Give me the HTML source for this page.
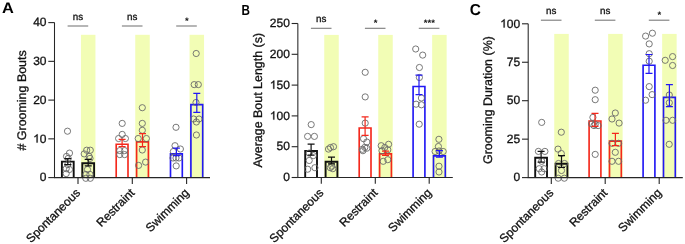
<!DOCTYPE html><html><head><meta charset="utf-8"><style>
html,body{margin:0;padding:0;background:#fff;width:685px;height:244px;overflow:hidden}
svg{display:block;will-change:transform}
text{font-family:"Liberation Sans",sans-serif;text-rendering:geometricPrecision}
.t{stroke:#111;stroke-width:0.3}
</style></head><body>
<svg width="685" height="244" viewBox="0 0 685 244">

<rect x="80.95" y="34.8" width="14.5" height="142.80" fill="#f2fdb5"/>
<rect x="135.25" y="34.8" width="14.5" height="142.80" fill="#f2fdb5"/>
<rect x="189.55" y="34.8" width="14.5" height="142.80" fill="#f2fdb5"/>
<path d="M61.90,177.6V161.60H73.70V177.6" fill="none" stroke="#111111" stroke-width="1.9" stroke-linejoin="miter"/>
<path d="M82.30,177.6V163.30H94.10V177.6" fill="none" stroke="#111111" stroke-width="1.9" stroke-linejoin="miter"/>
<path d="M116.20,177.6V144.20H128.00V177.6" fill="none" stroke="#f4281c" stroke-width="1.65" stroke-linejoin="miter"/>
<path d="M136.60,177.6V141.80H148.40V177.6" fill="none" stroke="#f4281c" stroke-width="1.65" stroke-linejoin="miter"/>
<path d="M170.50,177.6V153.90H182.30V177.6" fill="none" stroke="#2218f4" stroke-width="1.65" stroke-linejoin="miter"/>
<path d="M190.90,177.6V104.60H202.70V177.6" fill="none" stroke="#2218f4" stroke-width="1.65" stroke-linejoin="miter"/>
<g fill="none" stroke="#6a6a6a" stroke-width="0.9"><circle cx="67.5" cy="131.2" r="3.1"/><circle cx="69.5" cy="153.1" r="3.1"/><circle cx="66.5" cy="156.4" r="3.1"/><circle cx="68.2" cy="158.4" r="3.1"/><circle cx="67.8" cy="164.6" r="3.1"/><circle cx="66.2" cy="168.7" r="3.1"/><circle cx="69.5" cy="169.5" r="3.1"/><circle cx="66.2" cy="173.6" r="3.1"/><circle cx="86.7" cy="150.2" r="3.1"/><circle cx="90.3" cy="150.2" r="3.1"/><circle cx="84.2" cy="153.9" r="3.1"/><circle cx="89.1" cy="156.4" r="3.1"/><circle cx="90" cy="158.4" r="3.1"/><circle cx="87.5" cy="169.5" r="3.1"/><circle cx="85.9" cy="174.4" r="3.1"/><circle cx="90" cy="174.4" r="3.1"/><circle cx="85.8" cy="178.3" r="3.1"/><circle cx="90.3" cy="178.3" r="3.1"/><circle cx="122.2" cy="123.4" r="3.1"/><circle cx="122.2" cy="134.4" r="3.1"/><circle cx="118.6" cy="138.5" r="3.1"/><circle cx="125.4" cy="138.5" r="3.1"/><circle cx="119.8" cy="150.6" r="3.1"/><circle cx="124.6" cy="150.6" r="3.1"/><circle cx="119.8" cy="154.6" r="3.1"/><circle cx="124.6" cy="154.6" r="3.1"/><circle cx="142.3" cy="107.7" r="3.1"/><circle cx="142.3" cy="123.4" r="3.1"/><circle cx="142.3" cy="130.3" r="3.1"/><circle cx="138.2" cy="138.5" r="3.1"/><circle cx="146.4" cy="138.5" r="3.1"/><circle cx="142.3" cy="150" r="3.1"/><circle cx="138.6" cy="165.4" r="3.1"/><circle cx="145.6" cy="162.1" r="3.1"/><circle cx="176" cy="127.3" r="3.1"/><circle cx="175" cy="145.7" r="3.1"/><circle cx="180.4" cy="149" r="3.1"/><circle cx="173.4" cy="151.5" r="3.1"/><circle cx="173" cy="158" r="3.1"/><circle cx="176" cy="158" r="3.1"/><circle cx="179" cy="158" r="3.1"/><circle cx="176.2" cy="165.9" r="3.1"/><circle cx="196.2" cy="53.5" r="3.1"/><circle cx="194.2" cy="84.6" r="3.1"/><circle cx="198.3" cy="84.6" r="3.1"/><circle cx="196" cy="102.5" r="3.1"/><circle cx="193.6" cy="119" r="3.1"/><circle cx="199" cy="119" r="3.1"/><circle cx="196.4" cy="122" r="3.1"/><circle cx="196.4" cy="135" r="3.1"/></g>
<path d="M67.80,158.7V164.7M64.30,158.7H71.30M64.30,164.7H71.30" fill="none" stroke="#111111" stroke-width="1.2"/>
<path d="M88.20,159.3V165.9M84.70,159.3H91.70M84.70,165.9H91.70" fill="none" stroke="#111111" stroke-width="1.2"/>
<path d="M122.10,139.3V146.7M118.60,139.3H125.60M118.60,146.7H125.60" fill="none" stroke="#f4281c" stroke-width="1.2"/>
<path d="M142.50,133.6V146.7M139.00,133.6H146.00M139.00,146.7H146.00" fill="none" stroke="#f4281c" stroke-width="1.2"/>
<path d="M176.40,148.2V155.6M172.90,148.2H179.90M172.90,155.6H179.90" fill="none" stroke="#2218f4" stroke-width="1.2"/>
<path d="M196.80,93.4V112.3M193.30,93.4H200.30M193.30,112.3H200.30" fill="none" stroke="#2218f4" stroke-width="1.2"/>
<path d="M54.50,22.60V177.60H210.00" fill="none" stroke="#262626" stroke-width="1.05"/>
<path d="M48.30,177.60H54.5" stroke="#262626" stroke-width="1.1"/>
<text x="46.50" y="181.30" font-size="12" text-anchor="end" fill="#111" class="t">0</text>
<path d="M48.30,138.85H54.5" stroke="#262626" stroke-width="1.1"/>
<text x="46.50" y="142.55" font-size="12" text-anchor="end" fill="#111" class="t">&#8199;0</text>
<path transform="translate(33.15,142.55) scale(0.005859,-0.005859)" d="M763 0H583V1100Q518 1040 412 980Q306 920 222 890V1060Q373 1130 486 1225Q599 1320 646 1409H763Z" fill="#111" stroke="#111" stroke-width="51"/>
<path d="M48.30,100.10H54.5" stroke="#262626" stroke-width="1.1"/>
<text x="46.50" y="103.80" font-size="12" text-anchor="end" fill="#111" class="t">20</text>
<path d="M48.30,61.35H54.5" stroke="#262626" stroke-width="1.1"/>
<text x="46.50" y="65.05" font-size="12" text-anchor="end" fill="#111" class="t">30</text>
<path d="M48.30,22.60H54.5" stroke="#262626" stroke-width="1.1"/>
<text x="46.50" y="26.30" font-size="12" text-anchor="end" fill="#111" class="t">40</text>
<path d="M78.00,177.6V183.90" stroke="#262626" stroke-width="1.1"/>
<text transform="translate(81.00,193.60) rotate(-45)" font-size="12" text-anchor="end" fill="#111" class="t">Spontaneous</text>
<path d="M132.30,177.6V183.90" stroke="#262626" stroke-width="1.1"/>
<text transform="translate(135.30,193.60) rotate(-45)" font-size="12" text-anchor="end" fill="#111" class="t">Restraint</text>
<path d="M186.60,177.6V183.90" stroke="#262626" stroke-width="1.1"/>
<text transform="translate(189.60,193.60) rotate(-45)" font-size="12" text-anchor="end" fill="#111" class="t">Swimming</text>
<path d="M67.60,26.0H88.20" stroke="#7a7a7a" stroke-width="1.1"/>
<text x="78.00" y="19.80" font-size="9.8" text-anchor="middle" fill="#111" class="t">ns</text>
<path d="M121.90,26.0H142.50" stroke="#7a7a7a" stroke-width="1.1"/>
<text x="132.30" y="19.80" font-size="9.8" text-anchor="middle" fill="#111" class="t">ns</text>
<path d="M176.20,26.0H196.80" stroke="#7a7a7a" stroke-width="1.1"/>
<text x="186.80" y="23.90" font-size="9.5" font-weight="bold" text-anchor="middle" fill="#111">*</text>
<text transform="translate(25.70,100.40) rotate(-90)" font-size="12.45" text-anchor="middle" fill="#111" class="t"># Grooming Bouts</text>
<text transform="translate(2.0,12.8) scale(1.08,1)" font-size="15.2" font-weight="bold" fill="#000">A</text>
<rect x="324.25" y="34.9" width="14.5" height="142.60" fill="#f2fdb5"/>
<rect x="378.25" y="34.9" width="14.5" height="142.60" fill="#f2fdb5"/>
<rect x="432.15" y="34.9" width="14.5" height="142.60" fill="#f2fdb5"/>
<path d="M305.20,177.5V151.00H317.00V177.5" fill="none" stroke="#111111" stroke-width="1.9" stroke-linejoin="miter"/>
<path d="M325.60,177.5V161.80H337.40V177.5" fill="none" stroke="#111111" stroke-width="1.9" stroke-linejoin="miter"/>
<path d="M359.20,177.5V128.00H371.00V177.5" fill="none" stroke="#f4281c" stroke-width="1.65" stroke-linejoin="miter"/>
<path d="M379.60,177.5V153.90H391.40V177.5" fill="none" stroke="#f4281c" stroke-width="1.65" stroke-linejoin="miter"/>
<path d="M413.10,177.5V86.50H424.90V177.5" fill="none" stroke="#2218f4" stroke-width="1.65" stroke-linejoin="miter"/>
<path d="M433.50,177.5V155.90H445.30V177.5" fill="none" stroke="#2218f4" stroke-width="1.65" stroke-linejoin="miter"/>
<g fill="none" stroke="#6a6a6a" stroke-width="0.9"><circle cx="311.2" cy="124.6" r="3.1"/><circle cx="307.6" cy="136.4" r="3.1"/><circle cx="314.4" cy="136.4" r="3.1"/><circle cx="309.2" cy="153.1" r="3.1"/><circle cx="313.3" cy="155.6" r="3.1"/><circle cx="309.2" cy="160.5" r="3.1"/><circle cx="307.7" cy="169.2" r="3.1"/><circle cx="314.9" cy="167.7" r="3.1"/><circle cx="328.5" cy="149.1" r="3.1"/><circle cx="330.5" cy="147.5" r="3.1"/><circle cx="333.5" cy="146.7" r="3.1"/><circle cx="330.3" cy="167.7" r="3.1"/><circle cx="332.8" cy="168.7" r="3.1"/><circle cx="331.8" cy="166.2" r="3.1"/><circle cx="365.2" cy="72.3" r="3.1"/><circle cx="365.2" cy="96.9" r="3.1"/><circle cx="365.2" cy="123.1" r="3.1"/><circle cx="363.5" cy="138.7" r="3.1"/><circle cx="366.8" cy="142" r="3.1"/><circle cx="364.8" cy="147.4" r="3.1"/><circle cx="362.4" cy="149.3" r="3.1"/><circle cx="366.8" cy="148.2" r="3.1"/><circle cx="362.9" cy="150.7" r="3.1"/><circle cx="381.2" cy="145.7" r="3.1"/><circle cx="388.6" cy="144.3" r="3.1"/><circle cx="384.8" cy="147.5" r="3.1"/><circle cx="382" cy="150.7" r="3.1"/><circle cx="387.8" cy="149.8" r="3.1"/><circle cx="383.2" cy="161.3" r="3.1"/><circle cx="387.8" cy="159.7" r="3.1"/><circle cx="415.7" cy="49" r="3.1"/><circle cx="422.7" cy="55.1" r="3.1"/><circle cx="419.4" cy="67.5" r="3.1"/><circle cx="419.4" cy="77.5" r="3.1"/><circle cx="421.4" cy="98" r="3.1"/><circle cx="416.1" cy="104.2" r="3.1"/><circle cx="421.4" cy="104.8" r="3.1"/><circle cx="419.2" cy="124.2" r="3.1"/><circle cx="438.9" cy="139.3" r="3.1"/><circle cx="438.4" cy="146.5" r="3.1"/><circle cx="435.1" cy="151.5" r="3.1"/><circle cx="443.2" cy="151.5" r="3.1"/><circle cx="439" cy="151" r="3.1"/><circle cx="439" cy="166.2" r="3.1"/><circle cx="439" cy="172" r="3.1"/></g>
<path d="M311.10,144.1V155.1M307.60,144.1H314.60M307.60,155.1H314.60" fill="none" stroke="#111111" stroke-width="1.2"/>
<path d="M331.50,157.2V163.8M328.00,157.2H335.00M328.00,163.8H335.00" fill="none" stroke="#111111" stroke-width="1.2"/>
<path d="M365.10,116.9V135.4M361.60,116.9H368.60M361.60,135.4H368.60" fill="none" stroke="#f4281c" stroke-width="1.2"/>
<path d="M385.50,151.1V155.5M382.00,151.1H389.00M382.00,155.5H389.00" fill="none" stroke="#f4281c" stroke-width="1.2"/>
<path d="M419.00,75.2V94.7M415.50,75.2H422.50M415.50,94.7H422.50" fill="none" stroke="#2218f4" stroke-width="1.2"/>
<path d="M439.40,150.7V157.2M435.90,150.7H442.90M435.90,157.2H442.90" fill="none" stroke="#2218f4" stroke-width="1.2"/>
<path d="M297.85,23.50V177.50H452.80" fill="none" stroke="#262626" stroke-width="1.05"/>
<path d="M291.65,177.50H297.85" stroke="#262626" stroke-width="1.1"/>
<text x="289.85" y="181.20" font-size="12" text-anchor="end" fill="#111" class="t">0</text>
<path d="M291.65,146.70H297.85" stroke="#262626" stroke-width="1.1"/>
<text x="289.85" y="150.40" font-size="12" text-anchor="end" fill="#111" class="t">50</text>
<path d="M291.65,115.90H297.85" stroke="#262626" stroke-width="1.1"/>
<text x="289.85" y="119.60" font-size="12" text-anchor="end" fill="#111" class="t">&#8199;00</text>
<path transform="translate(269.83,119.60) scale(0.005859,-0.005859)" d="M763 0H583V1100Q518 1040 412 980Q306 920 222 890V1060Q373 1130 486 1225Q599 1320 646 1409H763Z" fill="#111" stroke="#111" stroke-width="51"/>
<path d="M291.65,85.10H297.85" stroke="#262626" stroke-width="1.1"/>
<text x="289.85" y="88.80" font-size="12" text-anchor="end" fill="#111" class="t">&#8199;50</text>
<path transform="translate(269.83,88.80) scale(0.005859,-0.005859)" d="M763 0H583V1100Q518 1040 412 980Q306 920 222 890V1060Q373 1130 486 1225Q599 1320 646 1409H763Z" fill="#111" stroke="#111" stroke-width="51"/>
<path d="M291.65,54.30H297.85" stroke="#262626" stroke-width="1.1"/>
<text x="289.85" y="58.00" font-size="12" text-anchor="end" fill="#111" class="t">200</text>
<path d="M291.65,23.50H297.85" stroke="#262626" stroke-width="1.1"/>
<text x="289.85" y="27.20" font-size="12" text-anchor="end" fill="#111" class="t">250</text>
<path d="M321.30,177.5V183.80" stroke="#262626" stroke-width="1.1"/>
<text transform="translate(324.30,193.50) rotate(-45)" font-size="12" text-anchor="end" fill="#111" class="t">Spontaneous</text>
<path d="M375.30,177.5V183.80" stroke="#262626" stroke-width="1.1"/>
<text transform="translate(378.30,193.50) rotate(-45)" font-size="12" text-anchor="end" fill="#111" class="t">Restraint</text>
<path d="M429.20,177.5V183.80" stroke="#262626" stroke-width="1.1"/>
<text transform="translate(432.20,193.50) rotate(-45)" font-size="12" text-anchor="end" fill="#111" class="t">Swimming</text>
<path d="M310.90,28.3H331.50" stroke="#7a7a7a" stroke-width="1.1"/>
<text x="321.30" y="22.10" font-size="9.8" text-anchor="middle" fill="#111" class="t">ns</text>
<path d="M364.90,28.3H385.50" stroke="#7a7a7a" stroke-width="1.1"/>
<text x="375.50" y="26.20" font-size="9.5" font-weight="bold" text-anchor="middle" fill="#111">*</text>
<path d="M418.80,28.3H439.40" stroke="#7a7a7a" stroke-width="1.1"/>
<text x="429.40" y="26.20" font-size="9.5" font-weight="bold" text-anchor="middle" fill="#111">***</text>
<text transform="translate(261.80,100.20) rotate(-90)" font-size="12.45" text-anchor="middle" fill="#111" class="t">Average Bout Length (s)</text>
<text transform="translate(241.4,14.5) scale(0.8,1)" font-size="14.6" font-weight="bold" fill="#000">B</text>
<rect x="554.25" y="33.9" width="14.5" height="143.70" fill="#f2fdb5"/>
<rect x="608.15" y="33.9" width="14.5" height="143.70" fill="#f2fdb5"/>
<rect x="662.15" y="33.9" width="14.5" height="143.70" fill="#f2fdb5"/>
<path d="M535.20,177.6V157.70H547.00V177.6" fill="none" stroke="#111111" stroke-width="1.9" stroke-linejoin="miter"/>
<path d="M555.60,177.6V163.80H567.40V177.6" fill="none" stroke="#111111" stroke-width="1.9" stroke-linejoin="miter"/>
<path d="M589.10,177.6V121.00H600.90V177.6" fill="none" stroke="#f4281c" stroke-width="1.65" stroke-linejoin="miter"/>
<path d="M609.50,177.6V141.10H621.30V177.6" fill="none" stroke="#f4281c" stroke-width="1.65" stroke-linejoin="miter"/>
<path d="M643.10,177.6V65.20H654.90V177.6" fill="none" stroke="#2218f4" stroke-width="1.65" stroke-linejoin="miter"/>
<path d="M663.50,177.6V97.40H675.30V177.6" fill="none" stroke="#2218f4" stroke-width="1.65" stroke-linejoin="miter"/>
<g fill="none" stroke="#6a6a6a" stroke-width="0.9"><circle cx="541.7" cy="122.4" r="3.1"/><circle cx="538.4" cy="151.4" r="3.1"/><circle cx="544.9" cy="151.4" r="3.1"/><circle cx="541.7" cy="161.3" r="3.1"/><circle cx="539.2" cy="168.7" r="3.1"/><circle cx="544.1" cy="168.7" r="3.1"/><circle cx="541.7" cy="172" r="3.1"/><circle cx="561.3" cy="132.2" r="3.1"/><circle cx="558" cy="149.1" r="3.1"/><circle cx="561.3" cy="153.5" r="3.1"/><circle cx="558.5" cy="163.5" r="3.1"/><circle cx="564.5" cy="163.5" r="3.1"/><circle cx="561.5" cy="170.5" r="3.1"/><circle cx="558.2" cy="178.2" r="3.1"/><circle cx="564.3" cy="178.2" r="3.1"/><circle cx="595.2" cy="90.2" r="3.1"/><circle cx="595.2" cy="99.7" r="3.1"/><circle cx="592.9" cy="117.4" r="3.1"/><circle cx="591.6" cy="123.9" r="3.1"/><circle cx="595.2" cy="124.4" r="3.1"/><circle cx="598.1" cy="125.6" r="3.1"/><circle cx="594" cy="125.6" r="3.1"/><circle cx="595.2" cy="154.4" r="3.1"/><circle cx="615.3" cy="113" r="3.1"/><circle cx="612" cy="119" r="3.1"/><circle cx="619.1" cy="123.1" r="3.1"/><circle cx="612" cy="143.3" r="3.1"/><circle cx="618.6" cy="143.3" r="3.1"/><circle cx="615.3" cy="152.3" r="3.1"/><circle cx="612" cy="161.3" r="3.1"/><circle cx="618.6" cy="161.3" r="3.1"/><circle cx="645.6" cy="36.1" r="3.1"/><circle cx="652.4" cy="33.2" r="3.1"/><circle cx="649.2" cy="43.9" r="3.1"/><circle cx="649.2" cy="53.7" r="3.1"/><circle cx="649.2" cy="61.2" r="3.1"/><circle cx="649.2" cy="86.6" r="3.1"/><circle cx="652.1" cy="94.6" r="3.1"/><circle cx="645.6" cy="100.2" r="3.1"/><circle cx="672.6" cy="56.6" r="3.1"/><circle cx="665.2" cy="60.3" r="3.1"/><circle cx="672.6" cy="65.5" r="3.1"/><circle cx="669.3" cy="95" r="3.1"/><circle cx="669.3" cy="102.8" r="3.1"/><circle cx="666" cy="120.3" r="3.1"/><circle cx="672.6" cy="120.3" r="3.1"/><circle cx="669.2" cy="144.3" r="3.1"/></g>
<path d="M541.10,151.3V162.1M537.60,151.3H544.60M537.60,162.1H544.60" fill="none" stroke="#111111" stroke-width="1.2"/>
<path d="M561.50,155.6V167.5M558.00,155.6H565.00M558.00,167.5H565.00" fill="none" stroke="#111111" stroke-width="1.2"/>
<path d="M595.00,113.3V126.4M591.50,113.3H598.50M591.50,126.4H598.50" fill="none" stroke="#f4281c" stroke-width="1.2"/>
<path d="M615.40,133.3V145.7M611.90,133.3H618.90M611.90,145.7H618.90" fill="none" stroke="#f4281c" stroke-width="1.2"/>
<path d="M649.00,54.5V73.4M645.50,54.5H652.50M645.50,73.4H652.50" fill="none" stroke="#2218f4" stroke-width="1.2"/>
<path d="M669.40,84.6V106.7M665.90,84.6H672.90M665.90,106.7H672.90" fill="none" stroke="#2218f4" stroke-width="1.2"/>
<path d="M528.20,23.80V177.60H682.80" fill="none" stroke="#262626" stroke-width="1.05"/>
<path d="M522.00,177.60H528.2" stroke="#262626" stroke-width="1.1"/>
<text x="520.20" y="181.30" font-size="12" text-anchor="end" fill="#111" class="t">0</text>
<path d="M522.00,139.15H528.2" stroke="#262626" stroke-width="1.1"/>
<text x="520.20" y="142.85" font-size="12" text-anchor="end" fill="#111" class="t">25</text>
<path d="M522.00,100.70H528.2" stroke="#262626" stroke-width="1.1"/>
<text x="520.20" y="104.40" font-size="12" text-anchor="end" fill="#111" class="t">50</text>
<path d="M522.00,62.25H528.2" stroke="#262626" stroke-width="1.1"/>
<text x="520.20" y="65.95" font-size="12" text-anchor="end" fill="#111" class="t">75</text>
<path d="M522.00,23.80H528.2" stroke="#262626" stroke-width="1.1"/>
<text x="520.20" y="27.50" font-size="12" text-anchor="end" fill="#111" class="t">&#8199;00</text>
<path transform="translate(500.18,27.50) scale(0.005859,-0.005859)" d="M763 0H583V1100Q518 1040 412 980Q306 920 222 890V1060Q373 1130 486 1225Q599 1320 646 1409H763Z" fill="#111" stroke="#111" stroke-width="51"/>
<path d="M551.30,177.6V183.90" stroke="#262626" stroke-width="1.1"/>
<text transform="translate(554.30,193.60) rotate(-45)" font-size="12" text-anchor="end" fill="#111" class="t">Spontaneous</text>
<path d="M605.20,177.6V183.90" stroke="#262626" stroke-width="1.1"/>
<text transform="translate(608.20,193.60) rotate(-45)" font-size="12" text-anchor="end" fill="#111" class="t">Restraint</text>
<path d="M659.20,177.6V183.90" stroke="#262626" stroke-width="1.1"/>
<text transform="translate(662.20,193.60) rotate(-45)" font-size="12" text-anchor="end" fill="#111" class="t">Swimming</text>
<path d="M540.90,20.2H561.50" stroke="#7a7a7a" stroke-width="1.1"/>
<text x="551.30" y="14.00" font-size="9.8" text-anchor="middle" fill="#111" class="t">ns</text>
<path d="M594.80,20.2H615.40" stroke="#7a7a7a" stroke-width="1.1"/>
<text x="605.20" y="14.00" font-size="9.8" text-anchor="middle" fill="#111" class="t">ns</text>
<path d="M648.80,20.2H669.40" stroke="#7a7a7a" stroke-width="1.1"/>
<text x="659.40" y="18.10" font-size="9.5" font-weight="bold" text-anchor="middle" fill="#111">*</text>
<text transform="translate(492.20,100.10) rotate(-90)" font-size="12.45" text-anchor="middle" fill="#111" class="t">Grooming Duration (%)</text>
<text transform="translate(469.7,15.1) scale(0.97,1)" font-size="15.9" font-weight="bold" fill="#000">C</text>
</svg></body></html>
